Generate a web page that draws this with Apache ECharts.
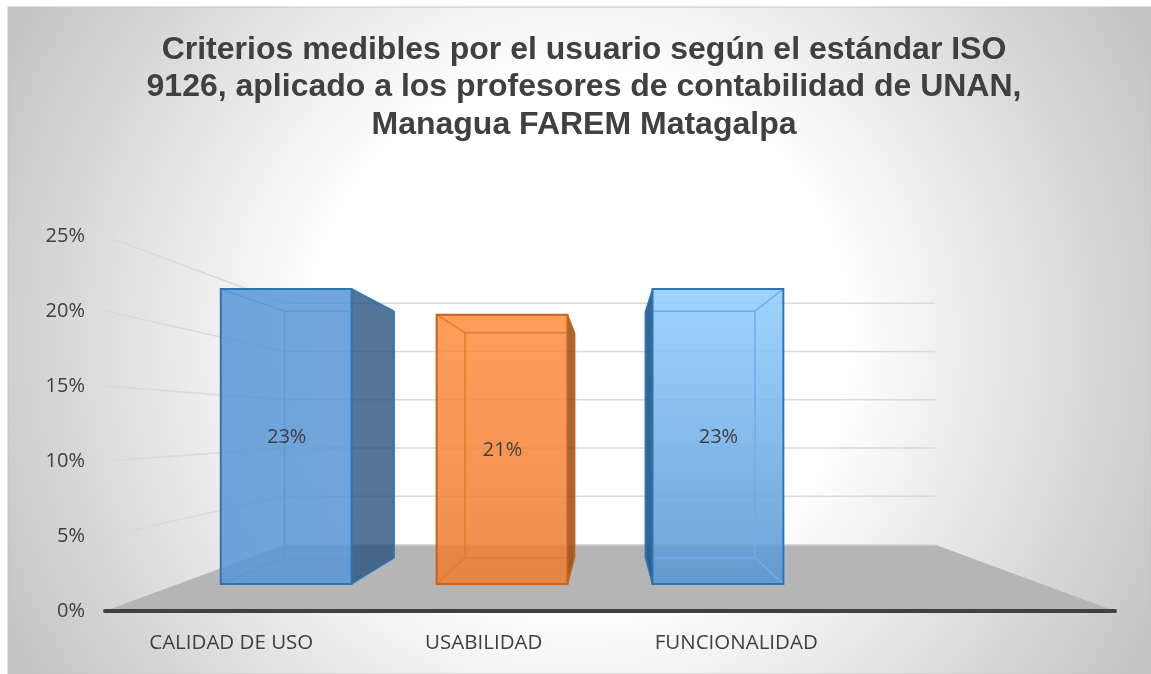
<!DOCTYPE html>
<html>
<head>
<meta charset="utf-8">
<style>html,body{margin:0;padding:0;background:#fff}#c{width:1151px;height:674px}</style>
<script src="https://cdn.jsdelivr.net/npm/echarts@6/dist/echarts.min.js"></script>
</head>
<body>
<div id="c"></div>
<script>
var categories = ['CALIDAD DE USO', 'USABILIDAD', 'FUNCIONALIDAD', ''];
var barValues = [23, 21, 23];
var yTicks = [0, 5, 10, 15, 20, 25];
var titleText = 'Criterios medibles por el usuario según el estándar ISO\n9126, aplicado a los profesores de contabilidad de UNAN,\nManagua FAREM Matagalpa';

var barStyles = [
  {top: 'rgba(88,151,214,0.86)', bottom: 'rgba(88,151,214,0.86)', side: 'rgba(40,82,125,0.8)', edge: '#2e75b6', inner: '#5a98d6'},
  {top: 'rgba(255,140,64,0.86)', bottom: 'rgba(236,125,50,0.86)', side: 'rgba(150,76,20,0.85)', edge: '#c9621a', inner: '#e57a2c'},
  {top: 'rgba(146,206,255,0.88)', bottom: 'rgba(88,150,210,0.88)', side: 'rgba(30,85,135,0.9)', edge: '#2e75b6', inner: '#6cade8'}
];
var BACK = 0.644, BAR_FRONT = 0.855, BAR_BACK = 0.715, BAR_RATIO = 0.606, VANISH_Y = 0.503;

function projector(cs) {
  var cx = cs.x + cs.width / 2, cy = cs.y + cs.height * VANISH_Y;
  return function (p, s) { return [cx + (p[0] - cx) * s, cy + (p[1] - cy) * s]; };
}

function renderWalls(params, api) {
  var cs = params.coordSys, pr = projector(cs), v = api.value(1);
  var y = api.coord([0, v])[1], l = cs.x, r = cs.x + cs.width;
  var kids = [], a = pr([l, y], BACK), b = pr([r, y], BACK);
  if (v === 0) {
    kids.push({type: 'polygon', shape: {points: [[l, y], a, b, [r, y]]}, style: {fill: '#b5b5b5'}});
  } else {
    kids.push({type: 'line', shape: {x1: l, y1: y, x2: a[0], y2: a[1]}, style: {stroke: '#d9d9d9', lineWidth: 1.5}});
  }
  kids.push({type: 'line', shape: {x1: a[0], y1: a[1], x2: b[0], y2: b[1]}, style: {stroke: '#d9d9d9', lineWidth: 1.5}});
  return {type: 'group', children: kids};
}

function renderBar(params, api) {
  var cs = params.coordSys, pr = projector(cs), i = api.value(0), val = api.value(1);
  var st = barStyles[params.dataIndex];
  var c = api.coord([i, val]), z = api.coord([i, 0]), hw = api.size([1, 0])[0] * BAR_RATIO / 2;
  var TL = [c[0] - hw, c[1]], TR = [c[0] + hw, c[1]], BL = [c[0] - hw, z[1]], BR = [c[0] + hw, z[1]];
  var f = [pr(TL, BAR_FRONT), pr(TR, BAR_FRONT), pr(BR, BAR_FRONT), pr(BL, BAR_FRONT)];
  var k = [pr(TL, BAR_BACK), pr(TR, BAR_BACK), pr(BR, BAR_BACK), pr(BL, BAR_BACK)];
  var kids = [];
  function ln(p, q, col, w) {
    kids.push({type: 'line', shape: {x1: p[0], y1: p[1], x2: q[0], y2: q[1]}, style: {stroke: col, lineWidth: w}});
  }
  var sideRight = k[1][0] > f[1][0];
  var o = sideRight ? 1 : 0, o2 = 3 - o, innerX = sideRight ? 0 : 1;
  // outer side face
  var side = sideRight ? [f[1], k[1], k[2], f[2]] : [f[0], k[0], k[3], f[3]];
  kids.push({type: 'polygon', shape: {points: side}, style: {fill: st.side}});
  // front face
  kids.push({type: 'polygon', shape: {points: f}, style: {
    fill: {type: 'linear', x: 0, y: 0, x2: 0, y2: 1, colorStops: [{offset: 0, color: st.top}, {offset: 1, color: st.bottom}]}
  }});
  // inner (back) edges seen through the front face
  ln(k[innerX], [f[o][0], k[innerX][1]], st.inner, 1.5);
  ln(k[3 - innerX], [f[o][0], k[3 - innerX][1]], st.inner, 1.5);
  ln(k[innerX], k[3 - innerX], st.inner, 1.5);
  ln(f[innerX], k[innerX], st.inner, 1.5);
  ln(f[3 - innerX], k[3 - innerX], st.inner, 1.5);
  // outer side edges
  ln(f[o], k[o], st.edge, 1.5); ln(k[o], k[o2], st.edge, 2); ln(k[o2], f[o2], st.edge, 1.5);
  // front face outline
  kids.push({type: 'polygon', shape: {points: f}, style: {fill: 'none', stroke: st.edge, lineWidth: 2}});
  // value label at the centre of the front face
  kids.push({type: 'text', style: {
    x: (f[0][0] + f[1][0]) / 2 + 0.5, y: (f[0][1] + f[3][1]) / 2 + 1,
    text: val + '%', fill: '#404040', font: '20px "Open Sans"', align: 'center', verticalAlign: 'middle'
  }});
  return {type: 'group', children: kids};
}

var chart = echarts.init(document.getElementById('c'), null, {renderer: 'canvas'});
chart.setOption({
  animation: false,
  backgroundColor: '#ffffff',
  graphic: [{
    type: 'rect', z: -10, silent: true,
    shape: {x: 8, y: 7, width: 1143, height: 667},
    style: {
      fill: {type: 'radial', x: 0.5, y: 0.5, r: 1, colorStops: [
        {offset: 0, color: '#ffffff'}, {offset: 0.4, color: '#ffffff'}, {offset: 1, color: '#c0c0c0'}
      ]},
      stroke: '#c4c4c4', lineWidth: 1
    }
  }],
  title: {
    text: titleText, left: 579, top: 26, textAlign: 'center',
    textStyle: {fontFamily: '"Liberation Sans"', fontWeight: 'bold', fontSize: 32, lineHeight: 37.5, color: '#404040'}
  },
  grid: {left: 105, right: 36, top: 236, height: 375},
  xAxis: {
    type: 'category', data: categories, boundaryGap: true, z: 5,
    axisTick: {show: false},
    axisLine: {show: true, lineStyle: {color: '#404040', width: 4, cap: 'round'}},
    axisLabel: {color: '#404040', fontFamily: '"Open Sans"', fontSize: 20.5, margin: 22, interval: 0},
    splitLine: {show: false}
  },
  yAxis: {
    type: 'value', min: 0, max: 25, interval: 5,
    axisLine: {show: false}, axisTick: {show: false}, splitLine: {show: false},
    axisLabel: {color: '#404040', fontFamily: '"Open Sans"', fontSize: 20, margin: 20, padding: [6, 0, 0, 0], formatter: '{value}%'}
  },
  series: [
    {type: 'custom', coordinateSystem: 'cartesian2d', clip: false, z: 1, silent: true,
     data: yTicks.map(function (t) { return [0, t]; }),
     encode: {x: 0, y: 1},
     renderItem: renderWalls},
    {type: 'custom', coordinateSystem: 'cartesian2d', clip: false, z: 3, silent: true,
     data: barValues.map(function (v, i) { return [i, v]; }),
     encode: {x: 0, y: 1},
     renderItem: renderBar}
  ]
});
</script>
</body>
</html>
